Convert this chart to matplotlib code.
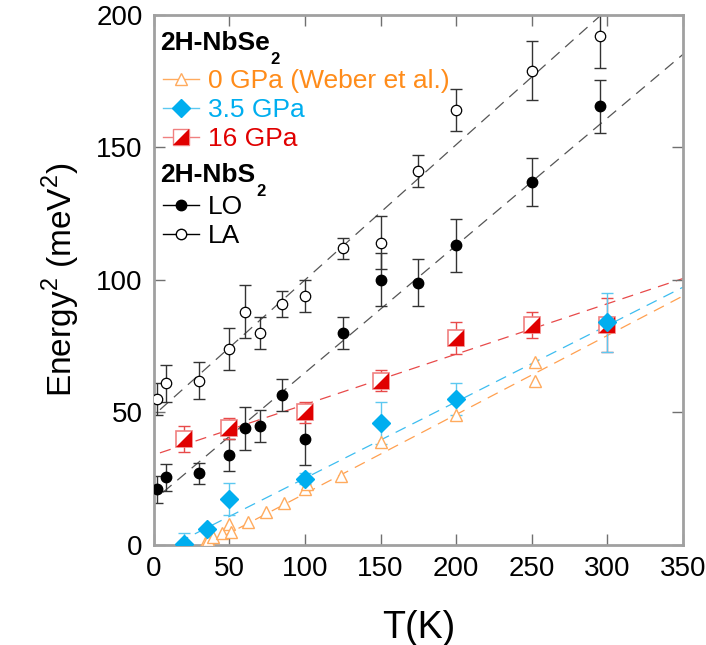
import numpy as np
import matplotlib
matplotlib.use("Agg")
import matplotlib.pyplot as plt
from matplotlib.lines import Line2D

plt.rcParams['font.family'] = ['Liberation Sans', 'DejaVu Sans']
plt.rcParams['mathtext.fontset'] = 'custom'
plt.rcParams['mathtext.rm'] = 'Liberation Sans'
plt.rcParams['mathtext.bf'] = 'Liberation Sans:bold'

# 2H-NbS2 LA (open circles)
T_la = [2, 8, 30, 50, 60, 70, 85, 100, 125, 150, 175, 200, 250, 295]
E_la = [55, 61, 62, 74, 88, 80, 91, 94, 112, 114, 141, 164, 179, 192]
err_la = [6, 7, 7, 8, 10, 6, 5, 6, 4, 10, 6, 8, 11, 12]
# 2H-NbS2 LO (filled circles)
T_lo = [2, 8, 30, 50, 60, 70, 85, 100, 125, 150, 175, 200, 250, 295]
E_lo = [21, 25.5, 27, 34, 44, 45, 56.5, 40, 80, 100, 99, 113, 137, 165.5]
err_lo = [5, 5, 4, 6, 8, 6, 6, 10, 6, 10, 9, 10, 9, 10]
# 2H-NbSe2 16 GPa
T_16 = [20, 50, 100, 150, 200, 250, 300]
E_16 = [40, 44, 50, 62, 78, 83, 83]
err_16 = [5, 4, 4, 4, 6, 5, 10]
# 2H-NbSe2 3.5 GPa
T_35 = [20, 35, 50, 100, 150, 200, 300]
E_35 = [0.5, 6, 17.5, 25, 46, 55, 84]
err_35 = [4, 0, 6, 2, 8, 6, 11]
# 2H-NbSe2 0 GPa (Weber et al.)
T_0 = [34, 36, 39, 45, 50, 51, 62, 74, 86, 100, 101, 124, 150, 200, 252, 252]
E_0 = [0.7, 2, 3, 4.5, 8, 5, 8.5, 12.5, 16, 21, 23, 26, 39, 49, 69, 62]

# linear fits (intercept, slope, start T)
fit_la = (49, 0.51, 4)
fit_lo = (17, 0.48, 6)
fit_16 = (34, 0.19, 4)
fit_35 = (-3.6, 0.288, 16)
fit_0 = (-10.4, 0.298, 34)

c_or = '#ff8c1a'
c_or_l = '#ffab5e'
c_bl = '#00aeef'
c_bl_l = '#5cc8f0'
c_rd = '#e00000'
c_rd_l = '#f08080'

fig = plt.figure(figsize=(7.06, 6.45), dpi=100)
ax = fig.add_axes([0.218, 0.155, 0.749, 0.822])

dash = (0, (9, 6))
for (b, m, t0), col in [(fit_la, '#555555'), (fit_lo, '#555555'),
                        (fit_16, '#e84a4a'), (fit_35, '#3dbdf0'), (fit_0, '#ffa050')]:
    t = np.array([t0, 360])
    ax.plot(t, b + m * t, ls=dash, color=col, lw=0.9, zorder=1)

# error bars
ax.errorbar(T_la, E_la, yerr=err_la, fmt='none', ecolor='#333333', elinewidth=1, capsize=4, capthick=1, zorder=2)
ax.errorbar(T_lo, E_lo, yerr=err_lo, fmt='none', ecolor='#333333', elinewidth=1, capsize=4, capthick=1, zorder=2)
ax.errorbar(T_16, E_16, yerr=err_16, fmt='none', ecolor='#e84a4a', elinewidth=1, capsize=4, capthick=1, zorder=2)
ax.errorbar(T_35, E_35, yerr=err_35, fmt='none', ecolor=c_bl_l, elinewidth=1, capsize=4, capthick=1, zorder=2)

# markers
ax.plot(T_0, E_0, ls='none', marker='^', ms=8, mfc='white', mec=c_or_l, mew=1, zorder=3)
tri = [(-1, -1), (1, -1), (1, 1)]
ax.plot(T_16, E_16, ls='none', marker='s', ms=12, mfc='white', mec=c_rd_l, mew=1.2, zorder=3)
ax.plot(T_16, E_16, ls='none', marker=tri, ms=12, mfc=c_rd, mec=c_rd, mew=0, zorder=3)
ax.plot(T_35, E_35, ls='none', marker='D', ms=9, mfc=c_bl, mec=c_bl, zorder=4)
ax.plot(T_lo, E_lo, ls='none', marker='o', ms=7.5, mfc='black', mec='black', zorder=3)
ax.plot(T_la, E_la, ls='none', marker='o', ms=7.5, mfc='white', mec='black', mew=0.9, zorder=3)

ax.set_xlim(0, 350)
ax.set_ylim(0, 200)
ax.set_xticks(range(0, 351, 50))
ax.set_yticks(range(0, 201, 50))
ax.tick_params(direction='in', length=8, width=1, color='#707070', top=True, right=True,
               labelsize=20, pad=8)
for s in ax.spines.values():
    s.set_color('#a0a0a0')
    s.set_linewidth(2)

ax.set_xlabel('T(K)', fontsize=27, labelpad=20)
ax.set_ylabel(r'Energy$^2$ (meV$^2$)', fontsize=24, labelpad=10)

# group headers
for txt, yb in [('2H-NbSe', 0.934), ('2H-NbS', 0.685)]:
    head = ax.text(0.011, yb, txt, transform=ax.transAxes, fontsize=19, fontweight='bold', va='baseline')
    ax.annotate('2', xy=(1, 0), xycoords=head, xytext=(1, 2), textcoords='offset points',
                fontsize=12, fontweight='bold', va='top', ha='left')

# legends
h_se = [Line2D([], [], color=c_or_l, lw=1, marker='^', ms=8, mfc='white', mec=c_or_l),
        Line2D([], [], color=c_bl_l, lw=1, marker='D', ms=9, mfc=c_bl, mec=c_bl),
        (Line2D([], [], color=c_rd_l, lw=1, marker='s', ms=12, mfc='white', mec=c_rd_l),
         Line2D([], [], ls='none', marker=tri, ms=12, mfc=c_rd, mec=c_rd, mew=0))]
lab_se = ['0 GPa (Weber et al.)', '3.5 GPa', '16 GPa']
leg1 = ax.legend(h_se, lab_se, loc='upper left', bbox_to_anchor=(0.017, 0.898), frameon=False,
                 fontsize=19, handlelength=1.36, handletextpad=0.35, labelspacing=0.2,
                 borderpad=0, borderaxespad=0)
for txt, col in zip(leg1.get_texts(), [c_or, c_bl, c_rd]):
    txt.set_color(col)
ax.add_artist(leg1)

h_s = [Line2D([], [], color='black', lw=1, marker='o', ms=7.5, mfc='black', mec='black'),
       Line2D([], [], color='black', lw=1, marker='o', ms=7.5, mfc='white', mec='black')]
leg2 = ax.legend(h_s, ['LO', 'LA'], loc='upper left', bbox_to_anchor=(0.017, 0.660), frameon=False,
                 fontsize=19, handlelength=1.36, handletextpad=0.35, labelspacing=0.2,
                 borderpad=0, borderaxespad=0)

fig.savefig('out.png', dpi=100)
